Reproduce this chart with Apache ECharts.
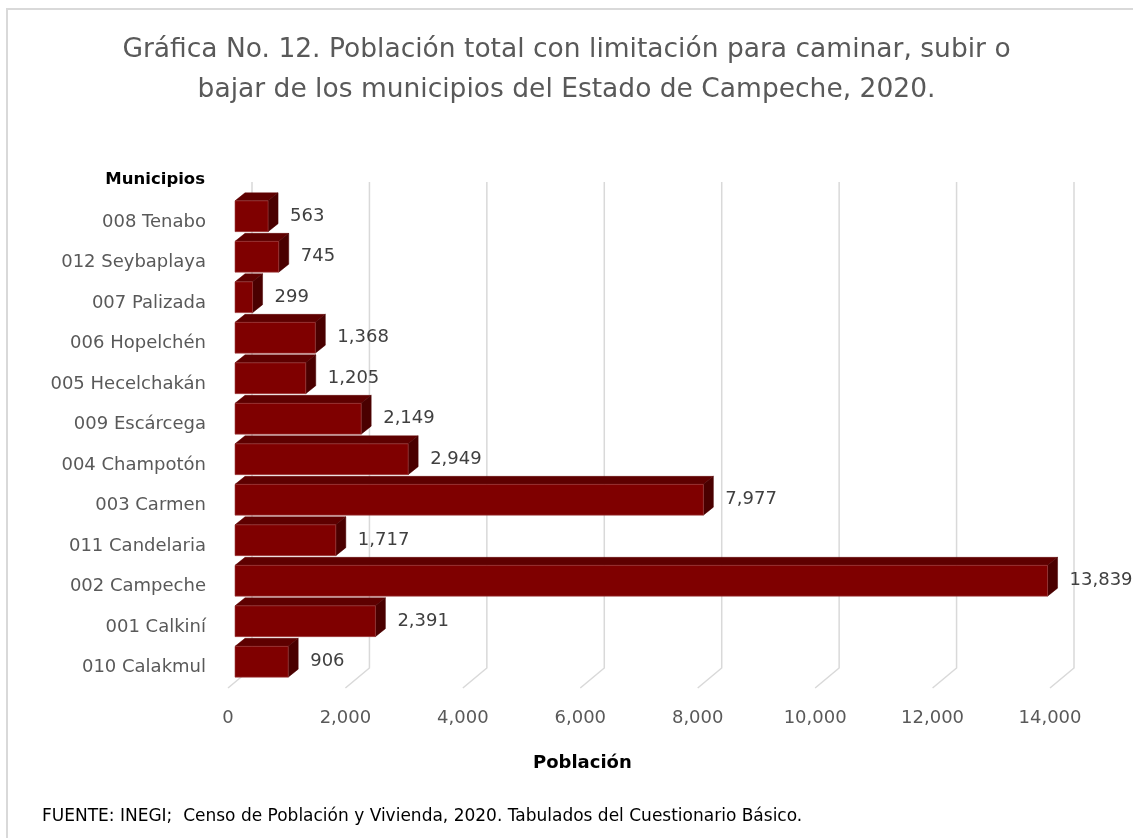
<!DOCTYPE html>
<html>
<head>
<meta charset="utf-8">
<script src="https://cdn.jsdelivr.net/npm/echarts@6/dist/echarts.min.js"></script>
<style>
html,body{margin:0;padding:0;background:#fff;}
#chart{width:1133px;height:838px;}
</style>
</head>
<body>
<div id="chart"></div>
<script>
const categories = ["008 Tenabo","012 Seybaplaya","007 Palizada","006 Hopelchén","005 Hecelchakán","009 Escárcega","004 Champotón","003 Carmen","011 Candelaria","002 Campeche","001 Calkiní","010 Calakmul"];
const values = [563,745,299,1368,1205,2149,2949,7977,1717,13839,2391,906];
const xTicks = [0,2000,4000,6000,8000,10000,12000,14000];
const titleText = "Gráfica No. 12. Población total con limitación para caminar, subir o\nbajar de los municipios del Estado de Campeche, 2020.";
const xName = "Población";
const yName = "Municipios";
const sourceText = "FUENTE: INEGI;  Censo de Población y Vivienda, 2020. Tabulados del Cuestionario Básico.";

const FONT = "DejaVu Sans";
const fmt = v => v.toLocaleString('en-US');

// 3D geometry (pixels)
const BACK_DX = 24, BACK_DY = 20;   // back wall offset from front plane
const BAR_SX = 7, BAR_SY = -6;      // bar plane offset from front plane
const DEPTH_DX = 10, DEPTH_DY = 8;  // bar depth

const chart = echarts.init(document.getElementById('chart'));

function renderGrid(params, api) {
  const cs = params.coordSys;
  const p = api.coord([api.value(0), 0]);
  const x = p[0];
  const top = cs.y, bottom = cs.y + cs.height;
  return {
    type: 'polyline',
    shape: { points: [[x + BACK_DX, top - BACK_DY], [x + BACK_DX, bottom - BACK_DY], [x, bottom]] },
    style: { stroke: '#d9d9d9', lineWidth: 1.5, fill: null }
  };
}

function renderBar(params, api) {
  const idx = api.value(0);
  const val = api.value(1);
  const p0 = api.coord([0, idx]);
  const p1 = api.coord([val, idx]);
  const band = api.size([0, 1])[1];
  const h = band * 0.76;
  const x = p0[0] + BAR_SX;
  const w = p1[0] - p0[0];
  const y = p0[1] + BAR_SY - h / 2;
  return {
    type: 'group',
    children: [
      { type: 'polygon', shape: { points: [[x, y], [x + DEPTH_DX, y - DEPTH_DY], [x + w + DEPTH_DX, y - DEPTH_DY], [x + w, y]] },
        style: { fill: '#5e0000', stroke: '#5e0000', lineWidth: 0.5 } },
      { type: 'polygon', shape: { points: [[x + w, y], [x + w + DEPTH_DX, y - DEPTH_DY], [x + w + DEPTH_DX, y + h - DEPTH_DY], [x + w, y + h]] },
        style: { fill: '#4a0000', stroke: '#4a0000', lineWidth: 0.5 } },
      { type: 'rect', shape: { x: x, y: y, width: w, height: h },
        style: { fill: '#7f0000', stroke: '#a04040', lineWidth: 0.6 } },
      { type: 'text', x: x + w + DEPTH_DX + 12, y: y + h / 2,
        style: { text: fmt(val), fill: '#404040', font: '18px "' + FONT + '"', align: 'left', verticalAlign: 'middle' } }
    ]
  };
}

chart.setOption({
  animation: false,
  backgroundColor: '#ffffff',
  title: {
    text: titleText,
    left: 'center',
    top: 25,
    textStyle: { fontFamily: FONT, fontSize: 26.5, fontWeight: 'normal', color: '#595959', lineHeight: 40 }
  },
  graphic: [
    { type: 'rect', shape: { x: 7, y: 9, width: 1140, height: 850 }, style: { fill: null, stroke: '#d9d9d9', lineWidth: 2 }, z: -1 },
    { type: 'text', left: 533, top: 754, style: { text: xName, font: 'bold 18px "' + FONT + '"', fill: '#000' } },
    { type: 'text', right: 1133 - 205, top: 171, style: { text: yName, font: 'bold 16.5px "' + FONT + '"', fill: '#000' } },
    { type: 'text', left: 42, top: 808, style: { text: sourceText, font: '17px "' + FONT + '"', fill: '#000' } }
  ],
  grid: { left: 228, right: 83, top: 202, bottom: 150 },
  xAxis: {
    type: 'value', min: 0, max: 14000, interval: 2000,
    axisLine: { show: false }, axisTick: { show: false }, splitLine: { show: false },
    axisLabel: { formatter: v => fmt(v), color: '#595959', fontFamily: FONT, fontSize: 18, margin: 21 }
  },
  yAxis: {
    type: 'category', data: categories, inverse: true,
    axisLine: { show: false }, axisTick: { show: false },
    axisLabel: { color: '#595959', fontFamily: FONT, fontSize: 18, margin: 22 }
  },
  series: [
    { type: 'custom', renderItem: renderGrid, data: xTicks.map(v => [v, 0]), encode: { x: 0, y: 1 }, z: 1, silent: true },
    { type: 'custom', renderItem: renderBar, data: values.map((v, i) => [i, v]), encode: { x: 1, y: 0 }, z: 2 }
  ]
});
</script>
</body>
</html>
